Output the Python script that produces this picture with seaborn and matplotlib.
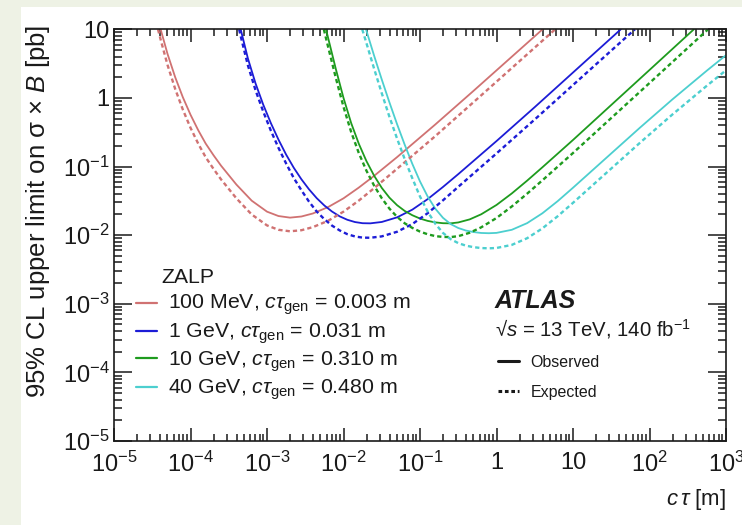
import numpy as np
import pandas as pd
import seaborn as sns
import matplotlib
matplotlib.use("Agg")
import matplotlib.pyplot as plt
from matplotlib.lines import Line2D
from matplotlib.patches import Rectangle
from matplotlib.ticker import FixedLocator, FixedFormatter, LogLocator, NullFormatter

# ---- ZALP limit curves: c*tau [m] vs 95% CL limit on sigma x B [pb] ----
masses = ["100 MeV", "1 GeV", "10 GeV", "40 GeV"]
ctau_gen = ["0.003", "0.031", "0.310", "0.480"]
colors = ["#d07272", "#1c1cd6", "#1e9b1e", "#4ccfcf"]

ctau_100mev_obs = [4.07e-5, 5.01e-5, 6.31e-5, 7.94e-5, 1.0e-4, 1.26e-4, 1.58e-4, 2.0e-4, 2.51e-4,
                   3.98e-4, 6.31e-4, 1.0e-3, 1.41e-3, 2.0e-3, 2.82e-3, 3.98e-3, 6.31e-3, 0.01,
                   0.0158, 0.0251, 0.0501, 0.158, 0.501, 4.0]
lim_100mev_obs = [10, 4.37, 2.0, 1.023, 0.569, 0.339, 0.216, 0.146, 0.1028,
                  0.0546, 0.0318, 0.0220, 0.0190, 0.0180, 0.0187, 0.0207, 0.0257, 0.0344,
                  0.0492, 0.0731, 0.137, 0.409, 1.268, 10]
ctau_100mev_exp = [3.76e-5, 4.07e-5, 5.01e-5, 6.31e-5, 7.94e-5, 1.0e-4, 1.26e-4, 1.58e-4, 2.0e-4,
                   2.51e-4, 3.98e-4, 6.31e-4, 1.0e-3, 1.41e-3, 2.0e-3, 2.82e-3, 3.98e-3, 6.31e-3,
                   0.01, 0.0158, 0.0251, 0.0501, 0.158, 0.501, 4.0, 5.85]
lim_100mev_exp = [10, 7.08, 3.02, 1.349, 0.676, 0.367, 0.216, 0.1365, 0.0923,
                  0.0649, 0.0344, 0.0200, 0.01387, 0.01197, 0.01138, 0.01180, 0.01309, 0.01622,
                  0.0220, 0.0318, 0.0483, 0.0927, 0.2767, 0.867, 6.84, 10]

ctau_1gev_obs = [4.53e-4, 5.62e-4, 7.08e-4, 8.91e-4, 1.122e-3, 1.413e-3, 1.778e-3, 2.239e-3,
                 2.818e-3, 3.548e-3, 4.467e-3, 5.623e-3, 7.079e-3, 8.913e-3, 0.01122, 0.01413,
                 0.01778, 0.02239, 0.03162, 0.05012, 0.07943, 0.1259, 0.1995, 0.3162, 1.0,
                 3.162, 42.17]
lim_1gev_obs = [10, 3.776, 1.629, 0.8017, 0.4305, 0.2466, 0.1493, 0.0959,
                0.06516, 0.04645, 0.03459, 0.02704, 0.02208, 0.01879, 0.01675, 0.01552,
                0.01493, 0.01486, 0.01556, 0.01816, 0.02355, 0.0335, 0.05035, 0.07745, 0.235,
                0.7345, 10]
ctau_1gev_exp = [4.325e-4, 4.53e-4, 5.62e-4, 7.08e-4, 8.91e-4, 1.122e-3, 1.413e-3, 1.778e-3,
                 2.239e-3, 2.818e-3, 3.548e-3, 4.467e-3, 5.623e-3, 7.079e-3, 8.913e-3, 0.01122,
                 0.01413, 0.01778, 0.02239, 0.03162, 0.05012, 0.07943, 0.1259, 0.1995, 0.3162,
                 1.0, 3.162, 42.17, 64.57]
lim_1gev_exp = [10, 7.943, 2.999, 1.294, 0.6368, 0.3342, 0.1871, 0.1107,
                0.06792, 0.04508, 0.03069, 0.02208, 0.01706, 0.01377, 0.01172, 0.01033,
                0.009572, 0.009204, 0.009162, 0.009594, 0.0112, 0.01452, 0.02089, 0.03214,
                0.05058, 0.1552, 0.4853, 6.531, 10]

ctau_10gev_obs = [5.902e-3, 7.943e-3, 0.01, 0.01259, 0.01585, 0.01995, 0.02512, 0.03162,
                  0.03981, 0.05012, 0.0631, 0.07943, 0.1, 0.1259, 0.1585, 0.1995, 0.2512,
                  0.3162, 0.4467, 0.631, 1.0, 1.585, 2.512, 3.981, 10, 31.62, 100, 380.2]
lim_10gev_obs = [10, 2.63, 1.0, 0.4305, 0.2148, 0.1199, 0.0736, 0.04887,
                 0.03524, 0.02735, 0.02254, 0.0195, 0.01746, 0.01614, 0.01535, 0.01493, 0.01486,
                 0.01531, 0.01698, 0.02014, 0.02754, 0.04055, 0.06223, 0.0975, 0.2438, 0.7889,
                 2.553, 10]
ctau_10gev_exp = [5.534e-3, 5.902e-3, 7.943e-3, 0.01, 0.01259, 0.01585, 0.01995, 0.02512,
                  0.03162, 0.03981, 0.05012, 0.0631, 0.07943, 0.1, 0.1259, 0.1585, 0.1995,
                  0.2512, 0.3162, 0.4467, 0.631, 1.0, 1.585, 2.512, 3.981, 10, 31.62, 100,
                  380.2, 583.4]
lim_10gev_exp = [10, 7.413, 1.95, 0.7413, 0.3192, 0.1574, 0.0869, 0.05272,
                 0.03459, 0.02438, 0.01849, 0.01489, 0.01274, 0.01127, 0.0103, 0.009683,
                 0.009419, 0.009376, 0.00966, 0.01084, 0.0130, 0.01778, 0.02618, 0.04018,
                 0.06295, 0.1574, 0.5093, 1.648, 6.457, 10]

ctau_40gev_obs = [0.01968, 0.02512, 0.03162, 0.03981, 0.05012, 0.0631, 0.07943, 0.1, 0.1259,
                  0.1585, 0.1995, 0.2512, 0.3162, 0.3981, 0.5012, 0.631, 0.7943, 1.0, 1.585,
                  2.512, 3.981, 6.31, 10, 27.54, 75.16, 199.5, 562.3, 1000]
lim_40gev_obs = [10, 4.13, 1.858, 0.863, 0.415, 0.208, 0.1091, 0.06067, 0.03656,
                 0.02432, 0.01791, 0.01452, 0.01271, 0.01167, 0.01109, 0.01076, 0.01067,
                 0.01079, 0.01197, 0.01496, 0.02084, 0.03133, 0.04909, 0.1352, 0.369, 0.9528,
                 2.5, 4.198]
ctau_40gev_exp = [0.01758, 0.01968, 0.02512, 0.03162, 0.03981, 0.05012, 0.0631, 0.07943, 0.1,
                  0.1259, 0.1585, 0.1995, 0.2512, 0.3162, 0.3981, 0.5012, 0.631, 0.7943, 1.0,
                  1.585, 2.512, 3.981, 6.31, 10, 27.54, 75.16, 199.5, 562.3, 1000]
lim_40gev_exp = [10, 6.607, 2.667, 1.172, 0.5321, 0.2559, 0.1282, 0.0673, 0.03656,
                 0.02203, 0.01466, 0.01079, 0.00875, 0.007656, 0.007031, 0.006683, 0.006486,
                 0.006427, 0.006501, 0.007211, 0.009016, 0.01256, 0.01888, 0.02958, 0.08147,
                 0.2223, 0.5741, 1.507, 2.529]

x_ticks = [1e-5, 1e-4, 1e-3, 1e-2, 1e-1, 1, 10, 1e2, 1e3]
x_tick_labels = [r"$10^{-5}$", r"$10^{-4}$", r"$10^{-3}$", r"$10^{-2}$", r"$10^{-1}$",
                 "1", "10", r"$10^{2}$", r"$10^{3}$"]
y_ticks = [1e-5, 1e-4, 1e-3, 1e-2, 1e-1, 1, 10]
y_tick_labels = [r"$10^{-5}$", r"$10^{-4}$", r"$10^{-3}$", r"$10^{-2}$", r"$10^{-1}$", "1", "10"]

curves = [
    ("100 MeV", "Observed", ctau_100mev_obs, lim_100mev_obs),
    ("100 MeV", "Expected", ctau_100mev_exp, lim_100mev_exp),
    ("1 GeV", "Observed", ctau_1gev_obs, lim_1gev_obs),
    ("1 GeV", "Expected", ctau_1gev_exp, lim_1gev_exp),
    ("10 GeV", "Observed", ctau_10gev_obs, lim_10gev_obs),
    ("10 GeV", "Expected", ctau_10gev_exp, lim_10gev_exp),
    ("40 GeV", "Observed", ctau_40gev_obs, lim_40gev_obs),
    ("40 GeV", "Expected", ctau_40gev_exp, lim_40gev_exp),
]
rows = []
for mass, kind, xs, ys in curves:
    for x, y in zip(xs, ys):
        rows.append({"mass": mass, "kind": kind, "ctau": x, "limit": y})
df = pd.DataFrame(rows)

# ---- style ----
sns.set_theme(style="ticks")
plt.rcParams["font.family"] = ["Liberation Sans", "DejaVu Sans"]
plt.rcParams["mathtext.fontset"] = "custom"
plt.rcParams["mathtext.rm"] = "Liberation Sans"
plt.rcParams["mathtext.it"] = "Liberation Sans:italic"
plt.rcParams["mathtext.bf"] = "Liberation Sans:bold"

W, H = 742, 525
fig = plt.figure(figsize=(W / 100, H / 100), dpi=100, facecolor="#eef2e5")
fig.patches.append(Rectangle((21 / W, 0), 1, 1 - 7 / H, transform=fig.transFigure,
                             facecolor="white", edgecolor="none", zorder=-10))

ax_l, ax_r, ax_t, ax_b = 114, 726, 29.3, 441
ax = fig.add_axes([ax_l / W, 1 - ax_b / H, (ax_r - ax_l) / W, (ax_b - ax_t) / H])
ax.set_facecolor("white")

palette = dict(zip(masses, colors))
sns.lineplot(data=df[df["kind"] == "Observed"], x="ctau", y="limit", hue="mass",
             hue_order=masses, palette=palette, estimator=None, sort=False,
             linewidth=1.3, legend=False, ax=ax)
sns.lineplot(data=df[df["kind"] == "Expected"], x="ctau", y="limit", hue="mass",
             hue_order=masses, palette=palette, estimator=None, sort=False,
             linewidth=1.7, legend=False, ax=ax)
n_obs = len(masses)
for ln in ax.lines[n_obs:]:
    ln.set_dashes((1.8, 1.3))

ax.set_xscale("log")
ax.set_yscale("log")
ax.set_xlim(1e-5, 1e3)
ax.set_ylim(1e-5, 10)

for axis, ticks, labels in [(ax.xaxis, x_ticks, x_tick_labels), (ax.yaxis, y_ticks, y_tick_labels)]:
    axis.set_major_locator(FixedLocator(ticks))
    axis.set_major_formatter(FixedFormatter(labels))
    axis.set_minor_locator(LogLocator(base=10, subs=np.arange(2, 10), numticks=100))
    axis.set_minor_formatter(NullFormatter())

ax.tick_params(which="both", direction="in", top=True, right=True, color="#1a1a1a",
               width=1.1, labelsize=17, labelcolor="#1a1a1a")
ax.tick_params(axis="x", which="major", length=9.4, pad=8)
ax.tick_params(axis="x", which="minor", length=4.7)
ax.tick_params(axis="y", which="major", length=12.7, pad=3)
ax.tick_params(axis="y", which="minor", length=5.8)
for s in ax.spines.values():
    s.set_visible(True)
    s.set_linewidth(1.2)
    s.set_color("#1a1a1a")

ax.set_xlabel(r"$c\,\tau$ [m]", fontsize=16, color="#1a1a1a", loc="right")
ax.xaxis.set_label_coords(1.0, -(500 - ax_b) / (ax_b - ax_t))
ax.xaxis.label.set_va("center")
ax.set_ylabel(r"95% CL upper limit on σ × $B$ [pb]", fontsize=18.5, color="#1a1a1a", loc="top")
ax.yaxis.set_label_coords((52 - ax_l) / (ax_r - ax_l), 1 + (ax_t - 25) / (ax_b - ax_t))


def axc(px, py):
    return (px - ax_l) / (ax_r - ax_l), (ax_b - py) / (ax_b - ax_t)


# mass legend
ax.text(*axc(161, 283.3), "ZALP", fontsize=15.3, color="#1a1a1a", transform=ax.transAxes,
        ha="left", va="baseline")
row_base = [309, 337.3, 365.7, 393.7]
row_line = [303.3, 331, 358.3, 387.3]
for mass, gen, col, yb, yl in zip(masses, ctau_gen, colors, row_base, row_line):
    x0, y0 = axc(136, yl)
    x1, _ = axc(157.3, yl)
    ax.add_line(Line2D([x0, x1], [y0, y0], transform=ax.transAxes, color=col, lw=1.6,
                       clip_on=False))
    ax.text(*axc(168.3, yb), f"{mass}, " + r"$c\tau_\mathrm{gen}$" + f" = {gen} m",
            fontsize=15.3, color="#1a1a1a", transform=ax.transAxes, ha="left", va="baseline")

# experiment labels
ax.text(*axc(495, 308.3), "ATLAS", fontsize=18, fontweight="bold", fontstyle="italic",
        color="#1a1a1a", transform=ax.transAxes, ha="left", va="baseline")
ax.text(*axc(495, 336.7), "√$s$ = 13 TeV, 140 fb$^{-1}$", fontsize=14.7, color="#1a1a1a",
        transform=ax.transAxes, ha="left", va="baseline")
for yl, yb, txt, dashed in [(360.7, 366.7, "Observed", False), (390.7, 396.7, "Expected", True)]:
    x0, y0 = axc(498.3, yl)
    x1, _ = axc(519.3, yl)
    ln = Line2D([x0, x1], [y0, y0], transform=ax.transAxes, color="#1a1a1a", lw=2.2,
                clip_on=False)
    if dashed:
        ln.set_dashes((1.2, 0.9))
    ax.add_line(ln)
    ax.text(*axc(530.7, yb), txt, fontsize=11.5, color="#1a1a1a", transform=ax.transAxes,
            ha="left", va="baseline")

fig.savefig("out.png", dpi=100, facecolor=fig.get_facecolor())
